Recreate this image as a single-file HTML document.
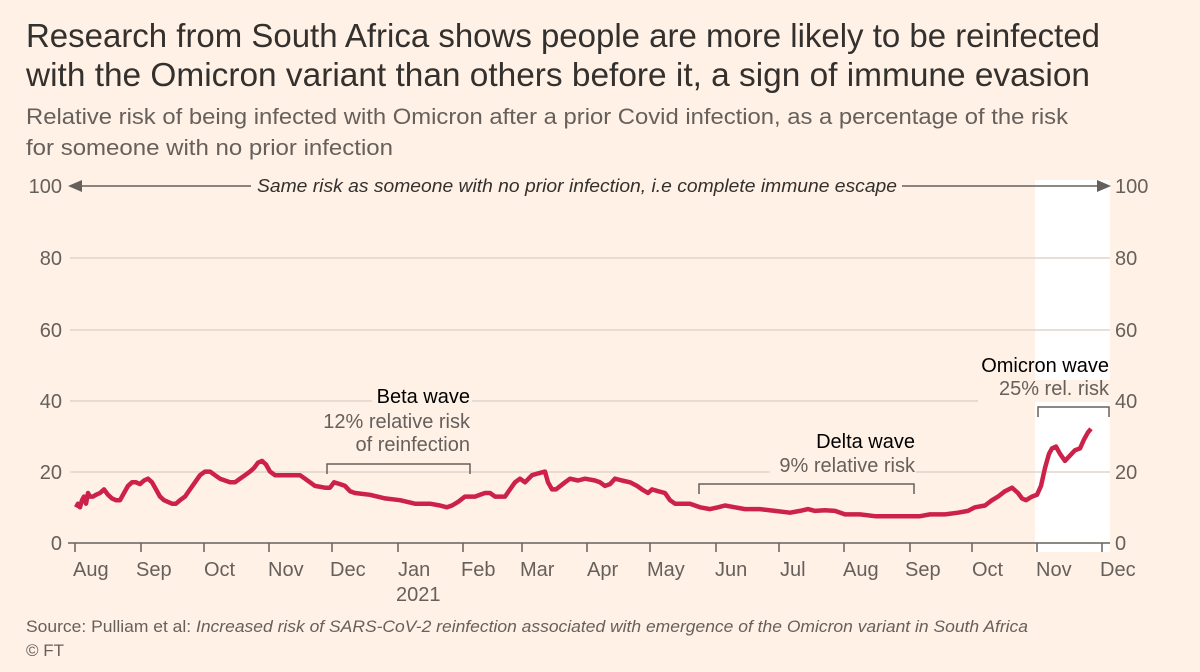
<!DOCTYPE html>
<html><head><meta charset="utf-8"><style>
body{margin:0;background:#fff1e5;}
svg{display:block;font-family:"Liberation Sans","DejaVu Sans",sans-serif;}
</style></head><body>
<svg width="1200" height="672" viewBox="0 0 1200 672">
<rect width="1200" height="672" fill="#fff1e5"/>
<rect x="1035" y="180" width="75" height="372" fill="#ffffff"/>
<text x="26" y="47" font-size="33" fill="#33302e" textLength="1074" lengthAdjust="spacingAndGlyphs">Research from South Africa shows people are more likely to be reinfected</text>
<text x="26" y="86" font-size="33" fill="#33302e" textLength="1064" lengthAdjust="spacingAndGlyphs">with the Omicron variant than others before it, a sign of immune evasion</text>
<text x="26" y="124" font-size="22" fill="#66605c" textLength="1042" lengthAdjust="spacingAndGlyphs">Relative risk of being infected with Omicron after a prior Covid infection, as a percentage of the risk</text>
<text x="26" y="155" font-size="22" fill="#66605c" textLength="367" lengthAdjust="spacingAndGlyphs">for someone with no prior infection</text>
<g stroke="#e0d6cc" stroke-width="1.5">
<line x1="70" y1="258" x2="1110" y2="258"/><line x1="70" y1="330" x2="1110" y2="330"/>
<line x1="70" y1="401" x2="1110" y2="401"/><line x1="70" y1="472" x2="1110" y2="472"/>
</g>
<g font-size="20" fill="#66605c">
<text x="62" y="193" text-anchor="end">100</text><text x="62" y="265" text-anchor="end">80</text>
<text x="62" y="337" text-anchor="end">60</text><text x="62" y="408" text-anchor="end">40</text>
<text x="62" y="479" text-anchor="end">20</text><text x="62" y="550" text-anchor="end">0</text>
<text x="1115" y="193">100</text><text x="1115" y="265">80</text>
<text x="1115" y="337">60</text><text x="1115" y="408">40</text>
<text x="1115" y="479">20</text><text x="1115" y="550">0</text>
</g>
<g stroke="#66605c" stroke-width="1.5">
<line x1="80" y1="186" x2="251" y2="186"/><line x1="902" y1="186" x2="1098" y2="186"/>
</g>
<polygon points="68,186 82,180 82,192" fill="#66605c"/>
<polygon points="1111,186 1097,180 1097,192" fill="#66605c"/>
<text x="257" y="192" font-size="18" font-style="italic" fill="#33302e" textLength="640" lengthAdjust="spacingAndGlyphs">Same risk as someone with no prior infection, i.e complete immune escape</text>
<line x1="68" y1="543" x2="1110" y2="543" stroke="#66605c" stroke-width="1.5"/>
<g stroke="#66605c" stroke-width="1.5">
<line x1="75" y1="543" x2="75" y2="552"/><line x1="141" y1="543" x2="141" y2="552"/><line x1="204" y1="543" x2="204" y2="552"/><line x1="269" y1="543" x2="269" y2="552"/><line x1="332" y1="543" x2="332" y2="552"/><line x1="398" y1="543" x2="398" y2="552"/><line x1="463" y1="543" x2="463" y2="552"/><line x1="522" y1="543" x2="522" y2="552"/><line x1="587" y1="543" x2="587" y2="552"/><line x1="650" y1="543" x2="650" y2="552"/><line x1="716" y1="543" x2="716" y2="552"/><line x1="779" y1="543" x2="779" y2="552"/><line x1="844" y1="543" x2="844" y2="552"/><line x1="910" y1="543" x2="910" y2="552"/><line x1="972" y1="543" x2="972" y2="552"/><line x1="1037" y1="543" x2="1037" y2="552"/><line x1="1102" y1="543" x2="1102" y2="552"/>
</g>
<g font-size="20" fill="#66605c">
<text x="73" y="576">Aug</text><text x="136" y="576">Sep</text><text x="204" y="576">Oct</text><text x="268" y="576">Nov</text><text x="330" y="576">Dec</text><text x="398" y="576">Jan</text><text x="461" y="576">Feb</text><text x="520" y="576">Mar</text><text x="587" y="576">Apr</text><text x="647" y="576">May</text><text x="715" y="576">Jun</text><text x="780" y="576">Jul</text><text x="843" y="576">Aug</text><text x="905" y="576">Sep</text><text x="972" y="576">Oct</text><text x="1036" y="576">Nov</text><text x="1100" y="576">Dec</text>
<text x="396" y="601">2021</text>
</g>
<g stroke="#66605c" stroke-width="1.5" fill="none">
<polyline points="327,474 327,464 470,464 470,474"/>
<polyline points="699,494 699,484 914,484 914,494"/>
<polyline points="1038,417 1038,407 1109,407 1109,417"/>
</g>
<rect x="372" y="386" width="100" height="22" fill="#fff1e5"/>
<rect x="770" y="455" width="146" height="22" fill="#fff1e5"/>
<rect x="978" y="380" width="133" height="22" fill="#fff1e5"/>
<g font-size="20" text-anchor="end">
<text x="470" y="403" fill="#000">Beta wave</text>
<text x="470" y="428" fill="#66605c">12% relative risk</text>
<text x="470" y="451" fill="#66605c">of reinfection</text>
<text x="915" y="448" fill="#000">Delta wave</text>
<text x="915" y="472" fill="#66605c">9% relative risk</text>
<text x="1109" y="372" fill="#000">Omicron wave</text>
<text x="1109" y="395" fill="#66605c">25% rel. risk</text>
</g>
<polyline id="ln" fill="none" stroke="#cc2249" stroke-width="4.5" stroke-linejoin="round" points=""/>
<text x="26" y="632" font-size="17" fill="#66605c" textLength="1002" lengthAdjust="spacingAndGlyphs">Source: Pulliam et al: <tspan font-style="italic">Increased risk of SARS-CoV-2 reinfection associated with emergence of the Omicron variant in South Africa</tspan></text>
<text x="26" y="656" font-size="17" fill="#66605c">© FT</text>
</svg>
<script>
var d=[[76,10],[78,11],[80,10],[82,12],[84,13],[86,11],[88,14],[90,13],[93,13],[96,13.5],[100,14],[104,15],[108,13.5],[112,12.5],[116,12],[120,12],[124,14],[128,16],[132,17],[136,17],[140,16.5],[144,17.5],[148,18],[152,17],[156,15],[160,13],[164,12],[168,11.5],[172,11],[176,11],[180,12],[185,13],[190,15],[195,17],[200,19],[205,20],[210,20],[215,19],[220,18],[230,17],[235,17],[240,18],[245,19],[250,20],[254,21],[258,22.5],[262,23],[266,22],[270,20],[275,19],[280,19],[290,19],[300,19],[305,18],[310,17],[315,16],[325,15.5],[330,15.5],[334,17],[340,16.5],[345,16],[350,14.5],[355,14],[370,13.5],[385,12.5],[400,12],[415,11],[430,11],[440,10.5],[447,10],[452,10.5],[458,11.5],[465,13],[475,13],[480,13.5],[485,14],[490,14],[495,13],[505,13],[510,15],[515,17],[520,18],[525,17],[532,19],[538,19.5],[545,20],[548,17],[552,15],[556,15],[565,17],[570,18],[578,17.5],[585,18],[595,17.5],[600,17],[605,16],[610,16.5],[615,18],[622,17.5],[630,17],[637,16],[642,15],[648,14],[652,15],[658,14.5],[665,14],[670,12],[675,11],[682,11],[690,11],[700,10],[710,9.5],[718,10],[725,10.5],[735,10],[745,9.5],[760,9.5],[775,9],[790,8.5],[800,9],[808,9.5],[815,9],[825,9.2],[835,9],[845,8],[860,8],[875,7.5],[890,7.5],[905,7.5],[920,7.5],[930,8],[945,8],[958,8.5],[968,9],[975,10],[985,10.5],[992,12],[998,13],[1005,14.5],[1012,15.5],[1018,14],[1022,12.5],[1026,12],[1032,13],[1037,13.5],[1041,16],[1045,21],[1049,25],[1052,26.5],[1056,27],[1060,25],[1065,23],[1070,24.5],[1075,26],[1080,26.5],[1084,29],[1088,31],[1091,32]];
document.getElementById('ln').setAttribute('points',d.map(function(p){return p[0]+','+(543-p[1]*3.57).toFixed(1)}).join(' '));
</script>
</body></html>
